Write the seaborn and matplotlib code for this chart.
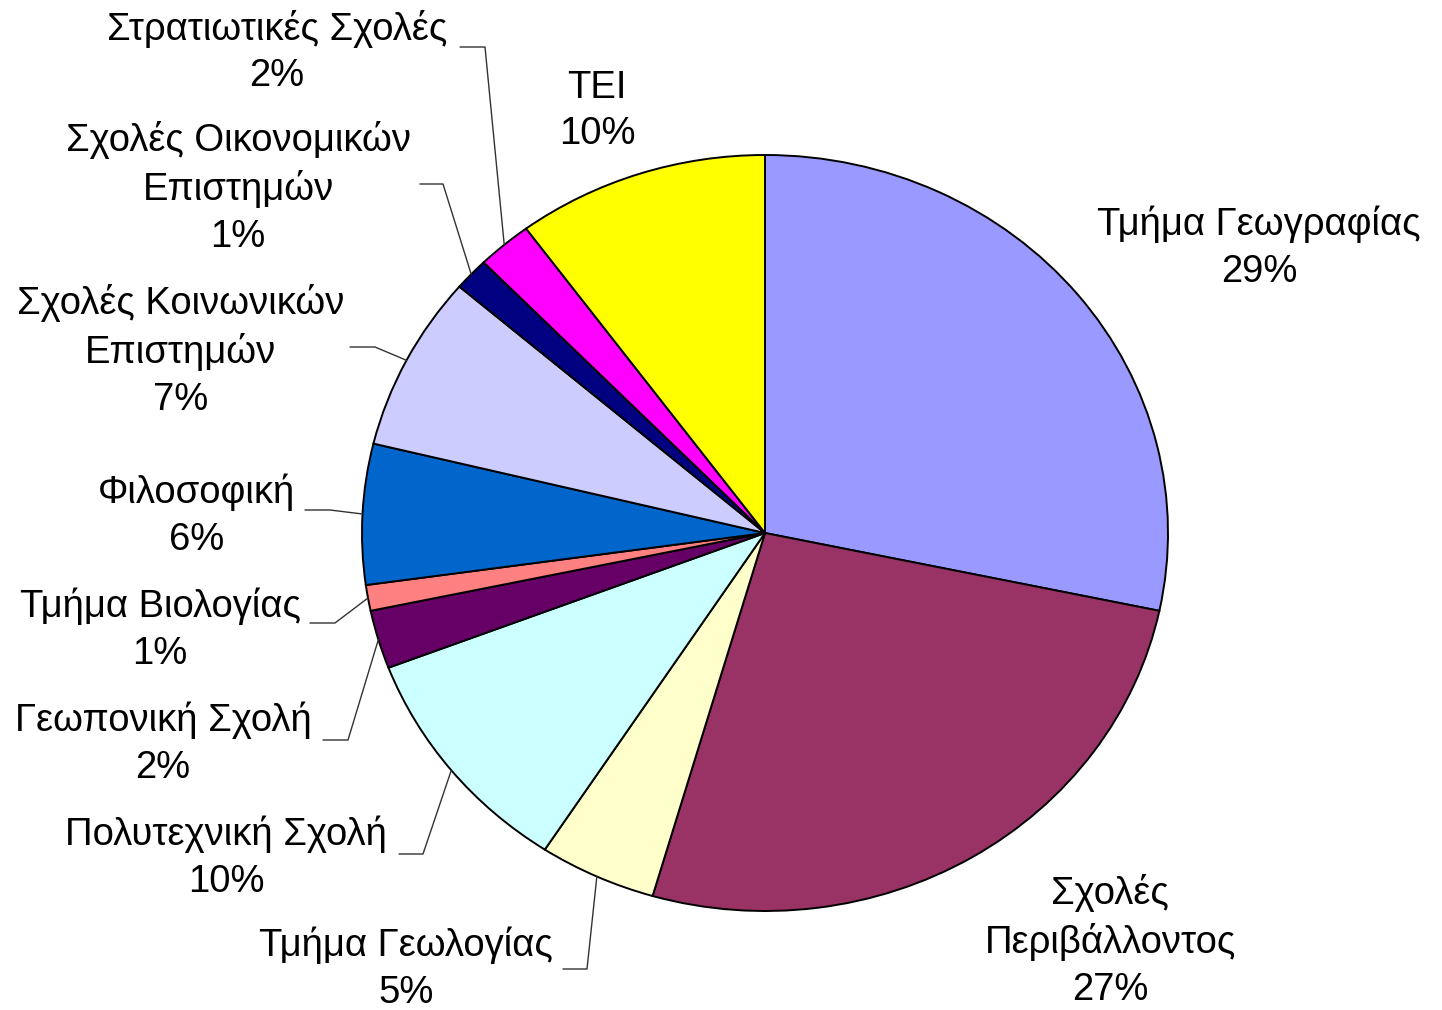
import numpy as np
import matplotlib
matplotlib.use('Agg')
import matplotlib.pyplot as plt
import seaborn as sns

# slices, clockwise from 12 o'clock
categories = ['Τμήμα Γεωγραφίας', 'Σχολές\nΠεριβάλλοντος', 'Τμήμα Γεωλογίας',
              'Πολυτεχνική Σχολή', 'Γεωπονική Σχολή', 'Τμήμα Βιολογίας',
              'Φιλοσοφική', 'Σχολές Κοινωνικών\nΕπιστημών',
              'Σχολές Οικονομικών\nΕπιστημών', 'Στρατιωτικές Σχολές', 'TEI']
shares = [28.3, 26.2, 4.7, 10.0, 2.5, 1.1, 6.0, 7.5, 1.4, 2.2, 10.1]
pct_labels = ['29%', '27%', '5%', '10%', '2%', '1%', '6%', '7%', '1%', '2%', '10%']
colors = ['#9999FF', '#993366', '#FFFFCC', '#CCFFFF', '#660066', '#FF8080',
          '#0066CC', '#CCCCFF', '#000080', '#FF00FF', '#FFFF00']

W, H = 1442, 1010
CX, CY, RX, RY = 765, 533, 403, 378   # pie centre / radii in pixels


def px(x, y):
    '''pixel position (from top-left) -> data coords of the full-figure axes'''
    return (x - CX) / RX, (CY - y) / RY


# label block centres (pixels) and leader elbows (None = no leader)
label_pos = [(1259, 248), (1110, 941), (406, 969), (226, 858), (163, 744),
             (160, 630), (197, 516), (181, 351), (238, 188), (277, 52), (597, 111)]
leaders = [None, None, [(563, 969), (587, 969)], [(399, 854), (423, 854)],
           [(323, 740), (348, 740)], [(310, 623), (335, 623)],
           [(305, 510), (330, 510)], [(350, 347), (375, 347)],
           [(420, 184), (443, 184)], [(460, 47), (485, 47)], None]

sns.set_theme(style='white')
plt.rcParams['font.family'] = ['Liberation Sans', 'DejaVu Sans']

fig = plt.figure(figsize=(W / 100, H / 100), dpi=100)
ax = fig.add_axes([0, 0, 1, 1])
wedges, _ = ax.pie(shares, colors=colors, startangle=90, counterclock=False,
                   wedgeprops=dict(edgecolor='black', linewidth=1.4))
ax.set_aspect('auto')
x0, y1 = px(0, 0)
x1, y0 = px(W, H)
ax.set_xlim(x0, x1)
ax.set_ylim(y0, y1)
ax.axis('off')

for i, w in enumerate(wedges):
    tx, ty = px(*label_pos[i])
    ax.text(tx, ty, f'{categories[i]}\n{pct_labels[i]}', ha='center', va='center',
            multialignment='center', fontsize=27.5, color='black', linespacing=1.38)
    if leaders[i] is not None:
        mid = np.deg2rad((w.theta1 + w.theta2) / 2)
        pts = [px(*p) for p in leaders[i]] + [(np.cos(mid), np.sin(mid))]
        xs, ys = zip(*pts)
        ax.plot(xs, ys, color='#333333', lw=1.0)

fig.savefig('out.png', dpi=100)
